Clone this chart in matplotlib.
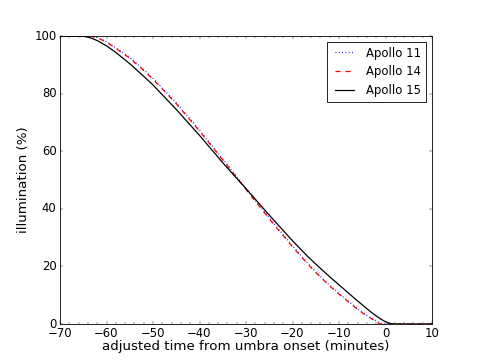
import matplotlib
matplotlib.use("Agg")
import matplotlib.pyplot as plt
from matplotlib.ticker import MultipleLocator

plt.style.use('classic')

# Apollo 15 (black)
t15 = [-70, -66, -65, -64, -63, -62, -60, -58, -55, -52, -50, -45, -40, -35, -30, -25, -20, -17, -15, -12, -10, -8, -6, -4, -3, -2, -1, 0, 1, 2, 10]
i15 = [100, 100, 99.9, 99.6, 99.1, 98.4, 96.6, 94.3, 90.4, 86.0, 83.0, 74.5, 65.5, 56.0, 47.0, 37.8, 28.9, 23.9, 20.8, 16.4, 13.6, 10.8, 8.0, 5.3, 4.0, 2.8, 1.7, 0.8, 0.2, 0, 0]

# Apollo 14 (red)
t14 = [-70, -64, -63, -62, -60, -58, -55, -52, -50, -45, -40, -35, -30, -25, -20, -17, -15, -12, -10, -8, -6, -5, -4, -3, -2, -1.2, 10]
i14 = [100, 100, 99.8, 99.4, 97.9, 95.7, 92.3, 88.0, 85.0, 76.5, 67.0, 57.0, 46.7, 36.5, 26.8, 21.3, 17.9, 13.2, 10.4, 7.7, 5.1, 3.9, 2.8, 1.8, 0.9, 0, 0]

# Apollo 11 (blue)
t11 = [-70, -64, -63, -62, -60, -58, -55, -52, -50, -45, -40, -35, -30, -25, -20, -17, -15, -12, -10, -8, -6, -5, -4, -3, -2, -1.0, 10]
i11 = [100, 100, 99.8, 99.5, 98.0, 95.9, 92.6, 88.3, 85.3, 76.8, 67.3, 57.3, 47.0, 36.8, 27.1, 21.6, 18.1, 13.4, 10.6, 7.9, 5.3, 4.1, 3.0, 2.0, 1.1, 0, 0]

fig = plt.figure(figsize=(8, 6), dpi=60)
ax = fig.add_subplot(111)
ax.plot(t11, i11, color='blue', linestyle=':', linewidth=1.5, label='Apollo 11')
ax.plot(t14, i14, color='red', linestyle='--', linewidth=1.5, label='Apollo 14')
ax.plot(t15, i15, color='black', linestyle='-', linewidth=1.5, label='Apollo 15')
ax.set_xlim(-70, 10)
ax.set_ylim(0, 100)
ax.xaxis.set_minor_locator(MultipleLocator(2))
ax.tick_params(labelsize=14)
ax.set_xlabel('adjusted time from umbra onset (minutes)', fontsize=16, labelpad=0)
ax.set_ylabel('illumination (%)', fontsize=16)
ax.legend(loc='upper right', fontsize=14, handlelength=2.2)
fig.savefig('out.png', dpi=60)
